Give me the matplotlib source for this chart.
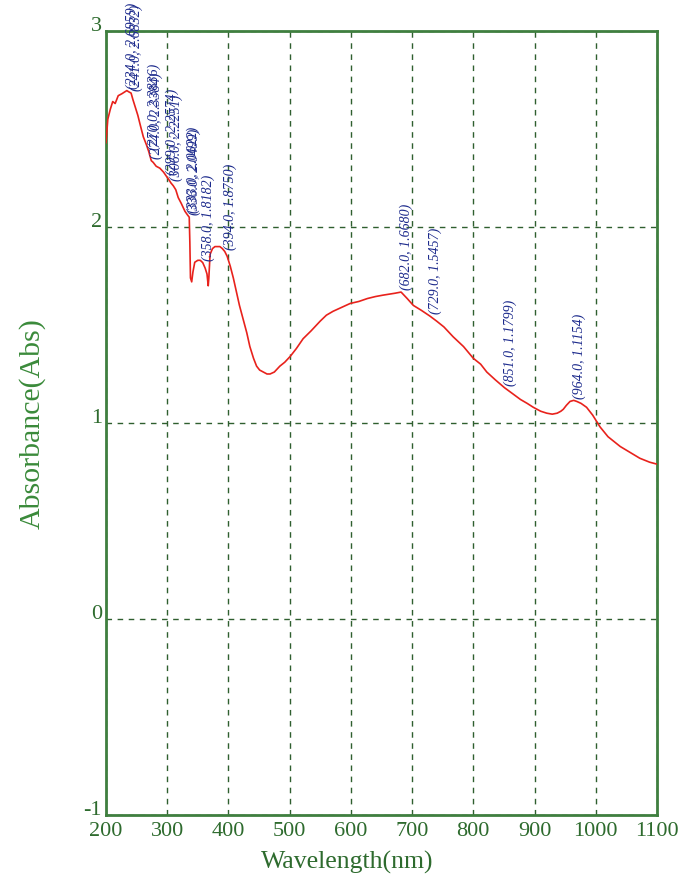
import matplotlib
matplotlib.use("Agg")
import matplotlib.pyplot as plt
import matplotlib.transforms as mtransforms

# Absorption spectrum (wavelength in nm, absorbance in Abs)
wavelength = [200, 203, 207, 211, 215, 220, 226, 231, 234, 237, 241, 244, 248,
              252, 256, 261, 266, 270, 274, 277, 282, 288, 294, 299, 303, 306,
              310, 314, 318, 323, 329, 333, 336, 337, 338, 340, 342, 345, 350,
              354, 358, 362, 365, 367, 368, 370, 374, 378, 382, 386, 390, 394,
              398, 403, 408, 413, 418, 424, 430, 435, 441, 446, 451, 457, 463,
              468, 475, 484, 492, 501, 511, 522, 535, 550, 560, 571, 585, 599,
              613, 627, 640, 652, 664, 672, 682, 692, 702, 715, 729, 740, 752,
              767, 784, 800, 812, 822, 836, 851, 864, 877, 888, 898, 910, 920,
              929, 937, 943, 947, 952, 958, 964, 969, 976, 985, 995, 1007, 1020,
              1040, 1056, 1072, 1088, 1100]
absorbance = [2.43, 2.55, 2.60, 2.64, 2.63, 2.67, 2.68, 2.69, 2.6959, 2.69,
              2.6832, 2.65, 2.61, 2.57, 2.52, 2.46, 2.42, 2.3836, 2.3384, 2.33,
              2.31, 2.30, 2.28, 2.2574, 2.24, 2.2251, 2.21, 2.19, 2.15, 2.12,
              2.08, 2.0622, 2.0499, 1.92, 1.74, 1.72, 1.77, 1.82, 1.83, 1.83,
              1.8182, 1.79, 1.76, 1.70, 1.74, 1.86, 1.89, 1.90, 1.90, 1.90,
              1.89, 1.8750, 1.85, 1.80, 1.74, 1.67, 1.60, 1.53, 1.46, 1.39,
              1.33, 1.29, 1.27, 1.26, 1.25, 1.25, 1.26, 1.29, 1.31, 1.34, 1.38,
              1.43, 1.47, 1.52, 1.55, 1.57, 1.59, 1.61, 1.62, 1.635, 1.645,
              1.652, 1.658, 1.662, 1.6680, 1.635, 1.60, 1.575, 1.5457, 1.52,
              1.49, 1.44, 1.39, 1.33, 1.30, 1.26, 1.22, 1.1799, 1.15, 1.12,
              1.10, 1.08, 1.06, 1.05, 1.045, 1.05, 1.06, 1.07, 1.09, 1.11,
              1.1154, 1.11, 1.10, 1.08, 1.04, 0.98, 0.93, 0.88, 0.85, 0.82,
              0.80, 0.79]

# Peak-pick readouts (wavelength, absorbance)
peak_wl = [234.0, 241.0, 270.0, 274.0, 299.0, 306.0, 333.0, 336.0, 358.0,
           394.0, 682.0, 729.0, 851.0, 964.0]
peak_abs = [2.6959, 2.6832, 2.3836, 2.3384, 2.2574, 2.2251, 2.0622, 2.0499,
            1.8182, 1.8750, 1.6680, 1.5457, 1.1799, 1.1154]

x_ticks = [200, 300, 400, 500, 600, 700, 800, 900, 1000, 1100]
y_ticks = [-1, 0, 1, 2, 3]

frame_green = "#3f7f3f"
grid_green = "#2f5f2f"
tick_green = "#2e6b2e"
label_green = "#3a8a3a"
note_blue = "#1c2a8c"
serif = ["Liberation Serif", "DejaVu Serif"]

fig = plt.figure(figsize=(6.82, 8.79), dpi=100)
ax = fig.add_axes([0.1554, 0.0717, 0.8079, 0.8919])

ax.plot(wavelength, absorbance, color="#e8221c", linewidth=1.2, zorder=3)

for wl, ab in zip(peak_wl, peak_abs):
    ax.annotate(f"({wl:.1f}, {ab:.4f})", xy=(wl, ab), xytext=(-1, 2),
                textcoords="offset points", rotation=90, ha="left", va="bottom",
                fontsize=10, fontstyle="italic", family=serif, color=note_blue,
                zorder=4)

ax.set_xlim(200, 1100)
ax.set_ylim(-1, 3)
ax.set_xticks(x_ticks)
ax.set_yticks(y_ticks)
ax.set_xticklabels([str(v) for v in x_ticks], family=serif, fontsize=16,
                   color=tick_green)
ax.set_yticklabels([str(v) for v in y_ticks], family=serif, fontsize=16,
                   color=tick_green)
ax.tick_params(axis="both", length=0)
ax.tick_params(axis="x", pad=4)
ax.tick_params(axis="y", pad=3)
shift_up = mtransforms.ScaledTranslation(0, 6 / 72, fig.dpi_scale_trans)
for lbl in ax.get_yticklabels():
    lbl.set_transform(lbl.get_transform() + shift_up)

ax.grid(True, linestyle=(0, (4, 4)), color=grid_green, linewidth=1.0)
for side in ax.spines.values():
    side.set_color(frame_green)
    side.set_linewidth(2)

ax.set_xlabel("Wavelength(nm)", family=serif, fontsize=18.5, color=tick_green)
ax.xaxis.set_label_coords(0.437, -0.044)
ax.set_ylabel("Absorbance(Abs)", family=serif, fontsize=21.5, color=label_green)
ax.yaxis.set_label_coords(-0.110, 0.5)

fig.savefig("out.png", dpi=100)
